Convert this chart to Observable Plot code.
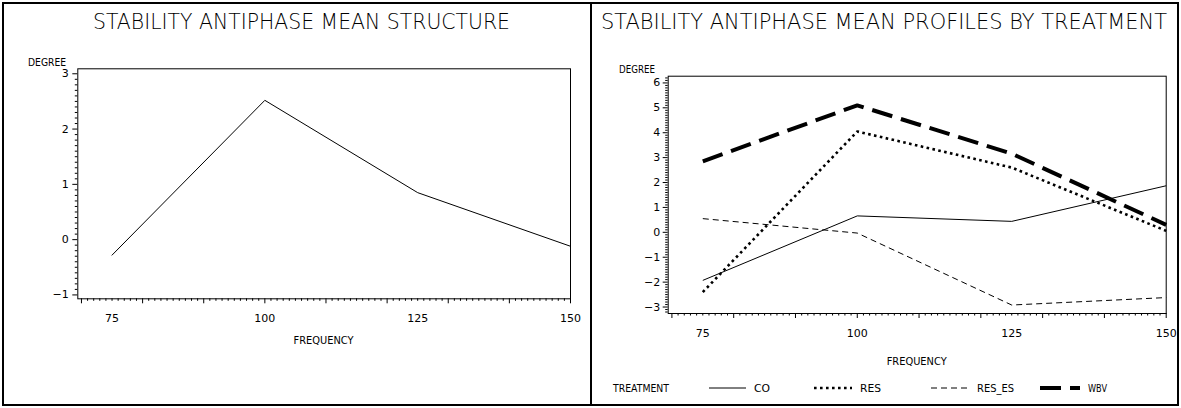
<!DOCTYPE html>
<html><head><meta charset="utf-8">
<script src="https://cdn.jsdelivr.net/npm/d3@7"></script>
<script src="https://cdn.jsdelivr.net/npm/@observablehq/plot@0.6"></script>
<style>
html,body{margin:0;padding:0;background:#fff;}
#wrap{position:relative;width:1181px;height:408px;overflow:hidden;background:#fff;}
#wrap svg{position:absolute;}
</style></head><body><div id="wrap"></div>
<script>
// ---- data ----
const frequencies = [75, 100, 125, 150];
const meanDegree = [-0.28, 2.52, 0.85, -0.12];
const treatments = ["CO", "RES", "RES_ES", "WBV"];
const coDegree = [-1.93, 0.66, 0.44, 1.87];
const resDegree = [-2.4, 4.05, 2.6, 0.06];
const resEsDegree = [0.55, -0.03, -2.92, -2.62];
const wbvDegree = [2.85, 5.1, 3.16, 0.3];
const xTickLabels = [75, 100, 125, 150];
const leftYTicks = [-1, 0, 1, 2, 3];
const rightYTicks = [-3, -2, -1, 0, 1, 2, 3, 4, 5, 6];
const leftTitle = "STABILITY ANTIPHASE MEAN STRUCTURE";
const rightTitle = "STABILITY ANTIPHASE MEAN PROFILES BY TREATMENT";

// ---- styles (kept separate from data) ----
const seriesValues = {CO: coDegree, RES: resDegree, RES_ES: resEsDegree, WBV: wbvDegree};
const seriesStyle = {
  CO:     {strokeWidth: 1,   strokeDasharray: null},
  RES:    {strokeWidth: 2.6, strokeDasharray: "2.6,3.4"},
  RES_ES: {strokeWidth: 1,   strokeDasharray: "6,4"},
  WBV:    {strokeWidth: 4,   strokeDasharray: "21,9"}
};

const rows = vals => vals.map((v, i) => ({frequency: frequencies[i], degree: v}));
const intFmt = d3.format("d");

function axisMarks(yMajor, yDomain, xPad, yPad) {
  const xMajor = d3.range(70, 151, 10);
  const xMinor = d3.range(70, 151, 1).filter(v => v % 10 !== 0);
  const yMinor = d3.range(Math.ceil(yDomain[0] * 10), Math.floor(yDomain[1] * 10) + 1)
    .filter(v => v % 10 !== 0).map(v => v / 10);
  const blank = () => "";
  return [
    Plot.axisX(xMinor, {tickSize: 2.5, tickFormat: blank, label: null}),
    Plot.axisX(xMajor, {tickSize: 5, tickFormat: blank, label: null}),
    Plot.axisX(xTickLabels, {tickSize: 0, tickPadding: xPad, tickFormat: intFmt, label: null}),
    Plot.axisY(yMinor, {tickSize: 2.5, tickFormat: blank, label: null}),
    Plot.axisY(yMajor, {tickSize: 5, tickPadding: yPad, tickFormat: intFmt, label: null}),
    Plot.frame({stroke: "black", strokeWidth: 1})
  ];
}

const common = {
  width: 590, height: 340,
  style: {fontFamily: "'DejaVu Sans', sans-serif", fontSize: "11px", color: "black", background: "transparent", overflow: "visible"}
};

const left = Plot.plot({
  ...common,
  marginLeft: 77.3, marginRight: 20, marginTop: 68.3, marginBottom: 41.7,
  x: {domain: [69.4, 150]},
  y: {domain: [-1.07, 3.09]},
  marks: [
    ...axisMarks(leftYTicks, [-1.07, 3.09], 15, 4),
    Plot.line(rows(meanDegree), {x: "frequency", y: "degree", stroke: "black", strokeWidth: 1})
  ]
});

const right = Plot.plot({
  ...common,
  marginLeft: 76.7, marginRight: 15.3, marginTop: 75.7, marginBottom: 27,
  x: {domain: [69.4, 150]},
  y: {domain: [-3.26, 6.27]},
  marks: [
    ...axisMarks(rightYTicks, [-3.26, 6.27], 16, 3),
    ...treatments.map(t => Plot.line(rows(seriesValues[t]), {
      x: "frequency", y: "degree", stroke: "black",
      strokeWidth: seriesStyle[t].strokeWidth,
      strokeDasharray: seriesStyle[t].strokeDasharray,
      strokeLinecap: "butt", strokeLinejoin: "miter"
    }))
  ]
});

const wrap = document.getElementById("wrap");
left.style.left = "0px"; left.style.top = "0px";
right.style.left = "591px"; right.style.top = "0px";
wrap.appendChild(left);
wrap.appendChild(right);

// ---- overlay: titles, axis names, legend, borders ----
const NS = "http://www.w3.org/2000/svg";
const ov = document.createElementNS(NS, "svg");
ov.setAttribute("width", 1181); ov.setAttribute("height", 408);
ov.style.left = "0px"; ov.style.top = "0px";
wrap.appendChild(ov);
function el(tag, attrs, txt) {
  const e = document.createElementNS(NS, tag);
  for (const k in attrs) if (attrs[k] != null) e.setAttribute(k, attrs[k]);
  if (txt != null) e.textContent = txt;
  ov.appendChild(e);
  return e;
}
const lab = {"font-family": "'DejaVu Sans', sans-serif", "font-size": 10, fill: "black", lengthAdjust: "spacingAndGlyphs"};
const ttl = {"font-family": "'DejaVu Sans', sans-serif", "font-size": 18, "font-weight": 200, fill: "black", "text-anchor": "middle", lengthAdjust: "spacingAndGlyphs", x: 0, y: 0};

el("rect", {x: 3, y: 3, width: 1175, height: 402, fill: "none", stroke: "black", "stroke-width": 2});
el("line", {x1: 591, y1: 3, x2: 591, y2: 405, stroke: "black", "stroke-width": 2});

el("text", {...ttl, transform: "translate(301.5,28.5) scale(1,1.2)", textLength: 417}, leftTitle);
el("text", {...ttl, transform: "translate(884,28.5) scale(1,1.2)", textLength: 566}, rightTitle);

el("text", {...lab, x: 28, y: 66, textLength: 38}, "DEGREE");
el("text", {...lab, x: 619, y: 73, textLength: 36}, "DEGREE");
el("text", {...lab, x: 323.5, y: 344, textLength: 60, "text-anchor": "middle"}, "FREQUENCY");
el("text", {...lab, x: 916.7, y: 365, textLength: 60, "text-anchor": "middle"}, "FREQUENCY");

// legend
const legY = 388;
el("text", {...lab, x: 613, y: legY + 4, textLength: 56}, "TREATMENT");
const legSwatch = {CO: [709, 746], RES: [814, 852], RES_ES: [931, 969], WBV: [1040, 1080]};
const legLabelW = {CO: 16, RES: 21, RES_ES: 37, WBV: 19};
treatments.forEach(t => {
  const [a, b] = legSwatch[t];
  el("line", {x1: a, y1: legY, x2: b, y2: legY, stroke: "black",
    "stroke-width": seriesStyle[t].strokeWidth, "stroke-dasharray": seriesStyle[t].strokeDasharray});
  el("text", {...lab, x: b + 8, y: legY + 4, textLength: legLabelW[t]}, t);
});
</script></body></html>
